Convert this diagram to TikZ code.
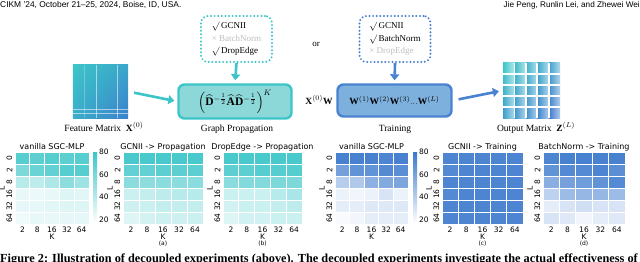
\documentclass[tikz,border=0pt]{standalone}
\usepackage{amsmath}
\usepackage{fontspec}
\setmainfont{Liberation Serif}
\newfontfamily\plotfont{DejaVu Sans}
\newfontfamily\headfont{Liberation Sans}
\usetikzlibrary{arrows.meta,positioning,shadings}

\definecolor{tealc}{HTML}{3CC5C8}
\definecolor{tealfill}{HTML}{8CD8D8}
\definecolor{bluec}{HTML}{3A78CD}
\definecolor{bluefill}{HTML}{7EB0DE}
\definecolor{blueline}{HTML}{4A82D2}

\tikzset{
  optbox/.style={rounded corners=7pt, line width=2.2pt, dash pattern=on 0pt off 3.6pt, line cap=round, minimum width=71pt, minimum height=46pt, inner sep=0pt},
  optline/.style={font=\fontsize{9}{12.5}\selectfont, align=left},
  stagebox/.style={rounded corners=6pt, line width=2.4pt, inner sep=0pt},
  flow/.style={line width=2.6pt, -{Triangle[length=6pt,width=9pt]}},
  caplabel/.style={font=\fontsize{9.5}{11}\selectfont, inner sep=0pt},
  tick/.style={font=\plotfont\fontsize{7.5}{8}\selectfont, inner sep=0pt},
  ptitle/.style={font=\plotfont\fontsize{8}{9}\selectfont, inner sep=0pt},
  sublabel/.style={font=\plotfont\fontsize{6}{7}\selectfont, inner sep=0pt},
  cell/.style={draw=white, line width=0.8pt},
  tilegap/.style={white, line width=1.8pt},
}

% heat map: id, left x, cell width, colour, title, rows of values
\newcommand{\hmap}[6]{%
  \foreach \row [count=\r] in {#6} {
    \foreach \v [count=\c] in \row {
      \pgfmathsetmacro{\p}{(\v-20)*100/60}
      \filldraw[cell, fill=#4!\p!white] ({#2+(\c-1)*#3},{152+(\r-1)*12}) rectangle ++(#3,12);
    }
  }
  \node[ptitle, anchor=base] (#1-title) at ({#2+2.5*#3},149) {#5};
  \foreach \k [count=\c] in {2,8,16,32,64}
    \node[tick, anchor=base] (#1-k\c) at ({#2+(\c-0.5)*#3},232) {\k};
  \foreach \l [count=\r] in {0,2,8,16,32,64}
    \node[tick, rotate=90] (#1-l\r) at ({#2-5.5},{152+(\r-0.5)*12}) {\l};
  \node[tick, anchor=base] (#1-K) at ({#2+2.5*#3},239) {K};
  \node[tick, rotate=90] (#1-L) at ({#2-13},188) {L};
}

\begin{document}
\begin{tikzpicture}[x=1pt, y=-1pt]
\useasboundingbox (0,0) rectangle (640,262);
\fill[white] (0,0) rectangle (640,262);
\clip (0,0) rectangle (640,262);

% running head
\node[font=\headfont\fontsize{8.4}{9}\selectfont, anchor=base west, inner sep=0pt] (headl) at (0,8) {CIKM ’24, October 21–25, 2024, Boise, ID, USA.};
\node[font=\headfont\fontsize{8.2}{9}\selectfont, anchor=base east, inner sep=0pt] (headr) at (640,8) {Jie Peng, Runlin Lei, and Zhewei Wei};

% option boxes
\node[optbox, draw=tealc] (opt1) at (236.5,39) {};
\node[optline] (opt1t) at (opt1) {$\surd$\,GCNII\\\textcolor{black!25}{× BatchNorm}\\$\surd$\,DropEdge};
\node[optbox, draw=blueline] (opt2) at (395,39) {};
\node[optline] (opt2t) at (opt2) {$\surd$\,GCNII\\$\surd$\,BatchNorm\\\textcolor{black!25}{× DropEdge}};
\node[font=\fontsize{9}{10}\selectfont] (or) at (316,44) {or};

% feature matrix
\node[minimum width=55pt, minimum height=53pt, inner sep=0pt] (fm) at (100.5,91.5) {};
\shade[upper left=tealc, lower right=bluec!90!tealc, upper right=tealc!60!bluec, lower left=tealc!70!bluec] (fm.north west) rectangle (fm.south east);
\foreach \gx/\go in {84/0.25,96/0.55,117/0.55}
  \draw[white, opacity=\go, line width=0.7pt] (\gx,65) -- (\gx,118);
\foreach \gy in {109,113}
  \draw[white, opacity=0.55, line width=0.7pt] (73,\gy) -- (128,\gy);
\node[caplabel, anchor=base] (fmlab) at (104,131) {Feature Matrix~~$\mathbf{X}^{(0)}$};

% stages
\node[stagebox, draw=tealc, fill=tealfill, minimum width=113pt, minimum height=34pt] (prop) at (235,101.5)
  {\fontsize{11.5}{13}\selectfont$\left(\widehat{\mathbf{D}}^{-\frac{1}{2}}\widehat{\mathbf{A}}\widehat{\mathbf{D}}^{-\frac{1}{2}}\right)^{K}$};
\node[caplabel, anchor=base] (proplab) at (237,131) {Graph Propagation};
\node[font=\fontsize{9.5}{11}\selectfont] (xw) at (319,100) {$\mathbf{X}^{(0)}\mathbf{W}$};
\node[stagebox, draw=blueline, fill=bluefill, minimum width=114pt, minimum height=32pt] (train) at (394.5,100.5)
  {\fontsize{9.5}{11}\selectfont$\mathbf{W}^{(1)}\mathbf{W}^{(2)}\mathbf{W}^{(3)}...\mathbf{W}^{(L)}$};
\node[caplabel, anchor=base] (trainlab) at (395,131) {Training};

% output matrix
\node[minimum width=57pt, minimum height=55pt, inner sep=0pt] (om) at (531.5,90.5) {};
\foreach \i in {0,...,4}
  \foreach \j in {0,...,4} {
    \pgfmathsetmacro{\m}{100-(\i+\j)*100/8}
    \colorlet{tilec}{tealc!\m!bluec}
    \shade[left color=tilec, right color=tilec!40!white]
      ({503+\i*11.4},{63+\j*11}) rectangle ++(11.4,11);
  }
\foreach \k in {1,...,4} {
  \draw[tilegap] ({503+\k*11.4},63) -- ({503+\k*11.4},118);
  \draw[tilegap] (503,{63+\k*11}) -- (560,{63+\k*11});
}
\node[caplabel, anchor=base] (omlab) at (536,131) {Output Matrix~~$\mathbf{Z}^{(L)}$};

% flow arrows
\draw[flow, tealc, shorten <=6pt, shorten >=3pt] (fm.east) -- (prop.west);
\draw[flow, tealc, shorten >=3pt] (opt1.south) -- (prop.north);
\draw[flow, blueline, shorten >=3pt] (opt2.south) -- (train.north);
\draw[flow, blueline, shorten <=6pt, shorten >=4pt] (train.east) -- (om.west);

% heat maps
\hmap{h1}{15}{14.8}{tealc}{vanilla SGC-MLP}{{72,70,72,70,72},{60,66,68,72,72},{42,40,45,55,50},{27,26,27,30,29},{28,28,29,30,30},{25,27,27,28,28}}
\hmap{h2}{123}{16}{tealc}{GCNII -> Propagation}{{76,76,76,76,76},{68,68,70,70,70},{56,55,56,56,56},{36,38,40,42,42},{35,36,38,38,38},{30,33,35,35,36}}
\hmap{h3}{223}{15.8}{tealc}{DropEdge -> Propagation}{{76,76,76,76,76},{70,70,72,72,72},{56,58,58,60,60},{36,36,36,42,46},{34,36,36,38,40},{30,34,34,36,36}}
\hmap{h4}{335}{14.6}{bluec}{vanilla SGC-MLP}{{76,76,76,74,76},{62,68,68,72,70},{42,44,55,58,60},{26,24,26,32,26},{28,28,30,30,30},{22,24,28,28,28}}
\hmap{h5}{442}{16.2}{bluec}{GCNII -> Training}{{74,74,74,74,74},{72,74,74,74,74},{74,74,74,74,74},{72,74,74,74,74},{74,74,74,74,74},{74,74,74,74,74}}
\hmap{h6}{543}{16.4}{bluec}{BatchNorm -> Training}{{74,76,76,76,76},{68,72,72,74,70},{56,62,64,68,72},{40,50,52,52,50},{28,32,34,32,32},{32,30,24,28,30}}

% colour bars
\shade[top color=tealc, bottom color=white] (93,152) rectangle (97,223);
\shade[top color=bluec, bottom color=white] (413,152) rectangle (417,223);
\foreach \t/\ty in {80/152,60/174.5,40/197,20/219.5} {
  \node[tick, anchor=west] (cb1-\t) at (99,\ty) {\t};
  \node[tick, anchor=west] (cb2-\t) at (419,\ty) {\t};
}

% panel letters
\node[sublabel, anchor=base] (la) at (163,245) {(a)};
\node[sublabel, anchor=base] (lb) at (262.5,245) {(b)};
\node[sublabel, anchor=base] (lc) at (482.5,245) {(c)};
\node[sublabel, anchor=base] (ld) at (584,245) {(d)};

% caption
\node[font=\bfseries\fontsize{12.3}{14}\selectfont, anchor=base west, inner sep=0pt] (cap) at (0,262)
  {Figure 2: Illustration of decoupled experiments (above). The decoupled experiments investigate the actual effectiveness of};
\end{tikzpicture}
\end{document}
